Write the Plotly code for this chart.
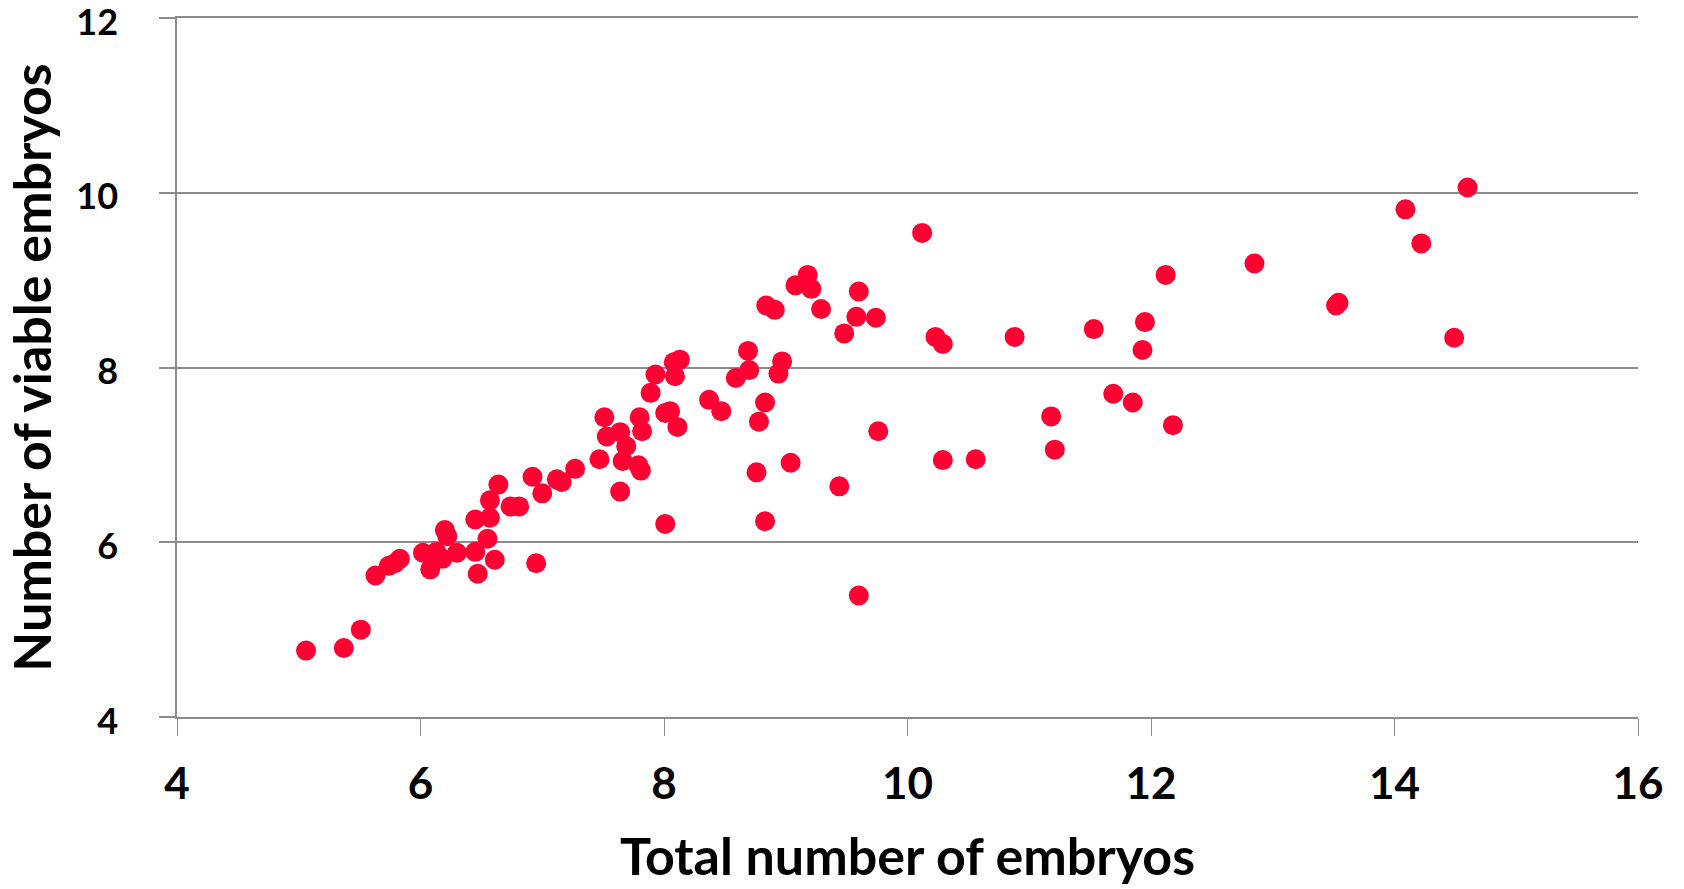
import plotly.graph_objects as go

total_embryos = [
    5.06, 5.37, 5.51, 5.63, 5.74, 5.79, 5.83, 6.02, 6.08, 6.13,
    6.18, 6.20, 6.22, 6.30, 6.45, 6.45, 6.47, 6.55, 6.57, 6.57,
    6.61, 6.64, 6.74, 6.81, 6.92, 6.95, 7.00, 7.12, 7.16, 7.27,
    7.47, 7.51, 7.53, 7.64, 7.64, 7.66, 7.69, 7.79, 7.80, 7.81,
    7.82, 7.89, 7.93, 8.01, 8.01, 8.05, 8.08, 8.09, 8.11, 8.13,
    8.37, 8.47, 8.59, 8.69, 8.70, 8.76, 8.78, 8.83, 8.83, 8.84,
    8.91, 8.94, 8.97, 9.04, 9.08, 9.18, 9.21, 9.29, 9.44, 9.48,
    9.58, 9.60, 9.60, 9.74, 9.76, 10.12, 10.23, 10.29, 10.29, 10.56,
    10.88, 11.18, 11.21, 11.53, 11.69, 11.85, 11.93, 11.95, 12.12, 12.18,
    12.85, 13.52, 13.54, 14.09, 14.22, 14.49, 14.60,
]
viable_embryos = [
    4.76, 4.79, 5.00, 5.62, 5.73, 5.76, 5.81, 5.88, 5.69, 5.89,
    5.81, 6.14, 6.07, 5.88, 6.26, 5.89, 5.64, 6.04, 6.28, 6.48,
    5.80, 6.66, 6.41, 6.41, 6.75, 5.76, 6.56, 6.72, 6.69, 6.84,
    6.95, 7.43, 7.21, 7.26, 6.58, 6.93, 7.10, 6.88, 7.43, 6.82,
    7.27, 7.71, 7.92, 6.21, 7.48, 7.50, 8.06, 7.90, 7.32, 8.09,
    7.63, 7.50, 7.88, 8.19, 7.97, 6.80, 7.38, 6.24, 7.60, 8.71,
    8.66, 7.93, 8.07, 6.91, 8.94, 9.06, 8.90, 8.67, 6.64, 8.39,
    8.58, 8.87, 5.39, 8.57, 7.27, 9.54, 8.35, 8.27, 6.94, 6.95,
    8.35, 7.44, 7.06, 8.44, 7.70, 7.60, 8.20, 8.52, 9.06, 7.34,
    9.19, 8.71, 8.74, 9.81, 9.42, 8.34, 10.06,
]
x_ticks = [4, 6, 8, 10, 12, 14, 16]
y_ticks = [4, 6, 8, 10, 12]

GRAY = "#8c8c8c"
FONT = "Lato"

fig = go.Figure(
    go.Scatter(
        x=total_embryos,
        y=viable_embryos,
        mode="markers",
        marker=dict(size=20, color="#ff0033", line=dict(width=0)),
        showlegend=False,
    )
)

fig.update_layout(
    width=1684,
    height=889,
    margin=dict(l=177, r=46, t=18, b=172),
    paper_bgcolor="white",
    plot_bgcolor="white",
    font=dict(family=FONT, color="black"),
)

fig.update_xaxes(
    range=[4, 16],
    tickvals=x_ticks,
    ticktext=[str(v) for v in x_ticks],
    showgrid=False,
    zeroline=False,
    showline=True,
    mirror=True,
    linecolor=GRAY,
    linewidth=1.5,
    ticks="outside",
    ticklen=17,
    tickwidth=1,
    tickcolor=GRAY,
    ticklabelstandoff=10,
    ticklabeloverflow="allow",
    automargin=False,
    tickfont=dict(family=FONT, size=44, color="black", weight="bold"),
    title=dict(
        text="Total number of embryos",
        font=dict(family=FONT, size=52, color="black", weight="bold"),
        standoff=32,
    ),
)

fig.update_yaxes(
    range=[4, 12],
    tickvals=y_ticks,
    ticktext=[str(v) for v in y_ticks],
    showgrid=True,
    gridcolor=GRAY,
    gridwidth=1.5,
    zeroline=False,
    showline=True,
    linecolor=GRAY,
    linewidth=1.5,
    ticks="outside",
    ticklen=16,
    tickwidth=1.5,
    tickcolor=GRAY,
    ticklabelstandoff=34,
    ticklabelshift=4,
    ticklabeloverflow="allow",
    automargin=False,
    tickfont=dict(family=FONT, size=36, color="black", weight="bold"),
    title=dict(
        text="Number of viable embryos",
        font=dict(family=FONT, size=52, color="black", weight="bold"),
        standoff=16,
    ),
)

fig.write_html(
    "out.html",
    config={"displayModeBar": False},
    post_script="document.body.style.margin='0';document.body.style.padding='0';",
)
